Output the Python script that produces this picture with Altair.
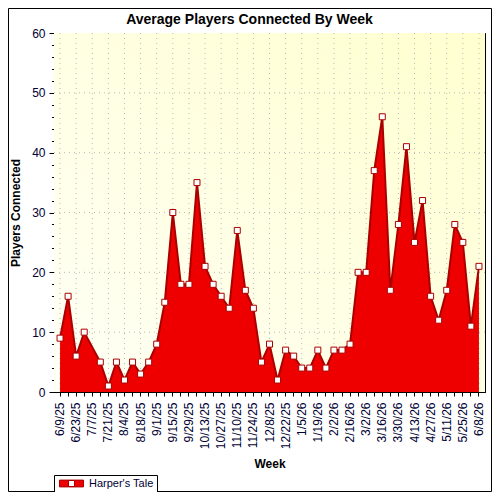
import json
import altair as alt
import pandas as pd

weeks = ["6/9/25", "6/16/25", "6/23/25", "6/30/25", "7/7/25", "7/14/25", "7/21/25", "7/28/25",
         "8/4/25", "8/11/25", "8/18/25", "8/25/25", "9/1/25", "9/8/25", "9/15/25", "9/22/25",
         "9/29/25", "10/6/25", "10/13/25", "10/20/25", "10/27/25", "11/3/25", "11/10/25",
         "11/17/25", "11/24/25", "12/1/25", "12/8/25", "12/15/25", "12/22/25", "12/29/25",
         "1/5/26", "1/12/26", "1/19/26", "1/26/26", "2/2/26", "2/9/26", "2/16/26", "2/23/26",
         "3/2/26", "3/9/26", "3/16/26", "3/23/26", "3/30/26", "4/6/26", "4/13/26", "4/20/26",
         "4/27/26", "5/4/26", "5/11/26", "5/18/26", "5/25/26", "6/1/26", "6/8/26"]

players = [9, 16, 6, 10, 7.5, 5, 1, 5, 2, 5, 3, 5, 8, 15, 30, 18, 18, 35, 21, 18, 16, 14, 27, 17, 14,
           5, 8, 2, 7, 6, 4, 4, 7, 4, 7, 7, 8, 20, 20, 37, 46, 17, 28, 41, 25, 32, 16, 12, 17, 28,
           25, 11, 21]

label_weeks = ["6/9/25", "6/23/25", "7/7/25", "7/21/25", "8/4/25", "8/18/25", "9/1/25", "9/15/25",
               "9/29/25", "10/13/25", "10/27/25", "11/10/25", "11/24/25", "12/8/25", "12/22/25",
               "1/5/26", "1/19/26", "2/2/26", "2/16/26", "3/2/26", "3/16/26", "3/30/26", "4/13/26",
               "4/27/26", "5/11/26", "5/25/26", "6/8/26"]

y_major = [0, 10, 20, 30, 40, 50, 60]
y_minor = [0, 2, 4, 6, 8, 10, 12, 14, 16, 18, 20, 22, 24, 26, 28, 30, 32, 34, 36, 38, 40, 42,
           44, 46, 48, 50, 52, 54, 56, 58, 60]
y_grid = [10, 20, 30, 40, 50]

series_name = "Harper's Tale"

df = pd.DataFrame({"week": weeks, "players": players, "series": [series_name] * len(weeks)})

W, H = 431, 359
FONT = "Liberation Sans"
LABEL_COLOR = "#000033"

xscale = alt.Scale(domain=weeks, padding=0.5)
yscale = alt.Scale(domain=[0, 60], nice=False, zero=True)

label_expr = "indexof(" + json.dumps(label_weeks) + ", datum.value) >= 0 ? datum.label : ''"

bg = alt.Chart(alt.Data(values=[{}])).mark_rect(
    color=alt.Gradient(
        gradient="linear",
        stops=[alt.GradientStop(color="#FFFFF6", offset=0),
               alt.GradientStop(color="#FFFFCF", offset=1)],
        x1=0, y1=1, x2=1, y2=0,
    )
).encode(x=alt.value(0), x2=alt.value(W), y=alt.value(0), y2=alt.value(H))

hgrid = alt.Chart(pd.DataFrame({"v": y_grid})).mark_rule(
    color="#B8B8B8", strokeDash=[1, 4], strokeWidth=1
).encode(y=alt.Y("v:Q", scale=yscale, axis=None))

vgrid = alt.Chart(pd.DataFrame({"week": label_weeks})).mark_rule(
    color="#B8B8B8", strokeDash=[1, 4], strokeWidth=1
).encode(x=alt.X("week:O", scale=xscale, sort=None, axis=None))

legend_symbol = ("M-3,-0.85H3V0.85H-3Z"
                 "M-0.75,-0.75V0.75H0.75V-0.75Z")

area = alt.Chart(df).mark_area(opacity=1).encode(
    x=alt.X("week:O", scale=xscale, sort=None,
            axis=alt.Axis(orient="bottom", title="Week", labelExpr=label_expr, labelAngle=270,
                          labelFontSize=12, labelOverlap=False, tickSize=4, labelPadding=6,
                          titleFontSize=12, titleFontWeight="bold", titlePadding=10, grid=False,
                          labelColor=LABEL_COLOR)),
    y=alt.Y("players:Q", scale=yscale,
            axis=alt.Axis(orient="left", values=y_major, title="Players Connected", tickSize=5,
                          labelFontSize=12, grid=False, titlePadding=9, titleFontSize=12,
                          titleFontWeight="bold", labelColor=LABEL_COLOR, labelPadding=4)),
    color=alt.Color("series:N", scale=alt.Scale(range=["#EE0000"]),
                    legend=alt.Legend(title=None, orient="none", legendX=0, legendY=442,
                                      strokeColor="black", fillColor="white", padding=3,
                                      symbolType=legend_symbol, symbolSize=64,
                                      symbolStrokeColor="#AA0000", symbolStrokeWidth=1,
                                      symbolOffset=9, labelOffset=12, labelFontSize=11,
                                      labelFont=FONT, labelColor=LABEL_COLOR)),
)

line = alt.Chart(df).mark_line(color="#AA0000", strokeWidth=2).encode(
    x=alt.X("week:O", scale=xscale, sort=None,
            axis=alt.Axis(orient="top", values=label_weeks, labels=False, domain=False,
                          tickSize=3, offset=-3, title=None, grid=False)),
    y=alt.Y("players:Q", scale=yscale,
            axis=alt.Axis(orient="left", values=y_minor, labels=False, domain=False,
                          tickSize=2.5, title=None, grid=False)),
)

points = alt.Chart(df).transform_filter("datum.week != '7/7/25'").mark_point(
    shape="square", filled=True, fill="white", stroke="#AA0000", strokeWidth=1, size=36, opacity=1
).encode(
    x=alt.X("week:O", scale=xscale, sort=None, axis=None),
    y=alt.Y("players:Q", scale=yscale,
            axis=alt.Axis(orient="right", values=y_minor, labels=False, domain=False,
                          tickSize=3, offset=-3, title=None, grid=False)),
)

border = alt.Chart(alt.Data(values=[{}])).mark_rect(
    fillOpacity=0, stroke="black", strokeWidth=1
).encode(x=alt.value(-45.5), x2=alt.value(437.5), y=alt.value(-24.5), y2=alt.value(458.5))

chart = alt.layer(bg, hgrid, vgrid, area, line, points, border).resolve_axis(
    x="independent", y="independent"
).properties(
    width=W, height=H,
    padding={"left": 46, "top": 25, "right": 7, "bottom": 100},
    autosize=alt.AutoSizeParams(type="none"),
    title=alt.TitleParams("Average Players Connected By Week", fontSize=14, fontWeight="bold",
                          anchor="middle", frame="group", dx=-20, offset=-19, font=FONT,
                          color="black"),
    background="white",
).configure(font=FONT).configure_view(
    stroke="black", strokeWidth=1
).configure_axis(
    domainColor="black", tickColor="black", labelFont=FONT, titleFont=FONT, titleColor="black"
)

chart.save("out.html", embed_options={"renderer": "svg", "actions": False})
